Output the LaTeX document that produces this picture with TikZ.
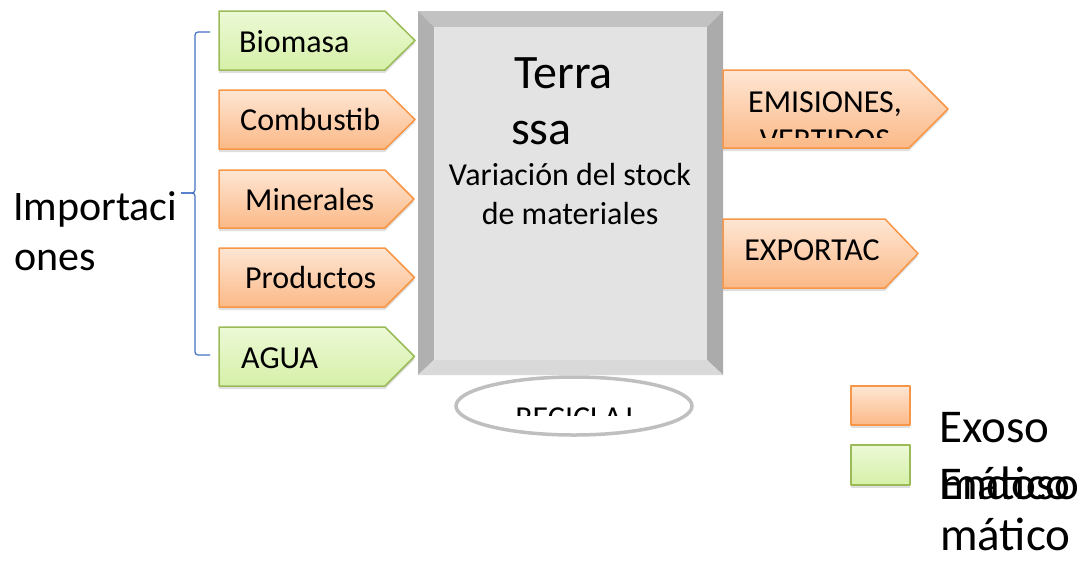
\documentclass[tikz,border=0pt]{standalone}
\usepackage{fontspec}
\setmainfont{Carlito}
\usetikzlibrary{shadows, shapes.geometric}
\definecolor{naranja}{RGB}{247,150,70}
\definecolor{naranjaA}{RGB}{254,230,212}
\definecolor{naranjaB}{RGB}{251,185,135}
\definecolor{verde}{RGB}{155,187,89}
\definecolor{verdeA}{RGB}{236,249,214}
\definecolor{verdeB}{RGB}{214,240,168}
\definecolor{azul}{RGB}{68,114,196}
\definecolor{gris}{RGB}{191,191,191}

\tikzset{
  naranjo/.style={draw=naranja, line width=1.5pt, line join=round, top color=naranjaA, bottom color=naranjaB,
    drop shadow={shadow xshift=0pt, shadow yshift=-3pt, opacity=0.25}},
  verdoso/.style={draw=verde, line width=1.5pt, line join=round, top color=verdeA, bottom color=verdeB,
    drop shadow={shadow xshift=0pt, shadow yshift=-3pt, opacity=0.25}},
  etiq/.style={font=\fontsize{32}{38}\selectfont, inner sep=0pt, anchor=base west},
  etiqc/.style={font=\fontsize{32}{38}\selectfont, inner sep=0pt, anchor=base},
  grande/.style={font=\fontsize{42}{50}\selectfont, inner sep=0pt, anchor=base west},
  leyenda/.style={font=\fontsize{47}{55}\selectfont, inner sep=0pt, anchor=base west},
}

\begin{document}
\begin{tikzpicture}[x=1pt, y=-1pt]
\useasboundingbox (0,0) rectangle (1087,563);

% importaciones
\node[grande] (imp1) at (13,220) {Importaci};
\node[grande] (imp2) at (14,270) {ones};
\draw[azul, line width=1.2pt, rounded corners=3pt] (210,32) -| (195,193) -- (181,193);
\draw[azul, line width=1.2pt, rounded corners=3pt] (181,193) -- (195,193) |- (210,355);

% entradas
\path[verdoso] (219,11) -- (385,11) -- (415,40.5) -- (385,70) -- (219,70) -- cycle;
\path[naranjo] (219,90) -- (385,90) -- (415,119.5) -- (385,149) -- (219,149) -- cycle;
\path[naranjo] (219,170) -- (385,170) -- (414,199) -- (385,228) -- (219,228) -- cycle;
\path[naranjo] (219,248) -- (385,248) -- (414.5,277.5) -- (385,307) -- (219,307) -- cycle;
\path[verdoso] (219,327) -- (385,327) -- (414.5,356.5) -- (385,386) -- (219,386) -- cycle;
\node[etiq] (biomasa) at (239,52) {Biomasa};
\node[etiq] (combust) at (240,130) {Combustib};
\node[etiq] (minerales) at (245,210) {Minerales};
\node[etiq] (productos) at (245,288) {Productos};
\node[etiq] (agua) at (241,368) {AGUA};

% caja central
\fill[black!24] (418,11) -- (723,11) -- (707,27) -- (434,27) -- cycle;
\fill[black!31] (418,11) -- (434,27) -- (434,360) -- (418,375) -- cycle;
\fill[black!33] (723,11) -- (723,375) -- (707,360) -- (707,27) -- cycle;
\fill[black!15] (418,375) -- (723,375) -- (707,360) -- (434,360) -- cycle;
\fill[black!11] (434,27) rectangle (707,360);
\node[font=\fontsize{48}{55}\selectfont, inner sep=0pt, anchor=base west] (terra1) at (514,88) {Terra};
\node[font=\fontsize{48}{55}\selectfont, inner sep=0pt, anchor=base west] (terra2) at (511,144) {ssa};
\node[etiqc] (stock1) at (570,185) {Variación del stock};
\node[etiqc] (stock2) at (570,224) {de materiales};

% salidas
\path[naranjo] (723,70) -- (909,70) -- (948,109) -- (909,148) -- (723,148) -- cycle;
\begin{scope}
  \clip (723,60) rectangle (909,137);
  \node[etiqc] (emis1) at (825,112) {EMISIONES,};
  \node[etiqc] (emis2) at (825,150) {VERTIDOS};
\end{scope}
\path[naranjo] (723,219) -- (885,219) -- (918,253.5) -- (885,288) -- (723,288) -- cycle;
\node[etiqc] (export) at (812,260) {EXPORTAC};

% reciclaje
\node[draw=gris, line width=3.5pt, fill=white, ellipse, minimum width=236pt, minimum height=58pt, inner sep=0pt] (recicla) at (574,406) {};
\begin{scope}
  \clip (450,380) rectangle (700,415);
  \node[etiqc] (recic) at (574,428) {RECICLAJ};
\end{scope}

% leyenda
\path[naranjo] (851,386) rectangle (910,425);
\path[verdoso] (851,445) rectangle (910,485);
\node[leyenda] (exo1) at (939,442) {Exoso};
\node[leyenda] (exo2) at (940,499) {mático};
\node[leyenda] (endo1) at (939,499) {Endoso};
\node[leyenda] (endo2) at (940,550) {mático};
\end{tikzpicture}
\end{document}
